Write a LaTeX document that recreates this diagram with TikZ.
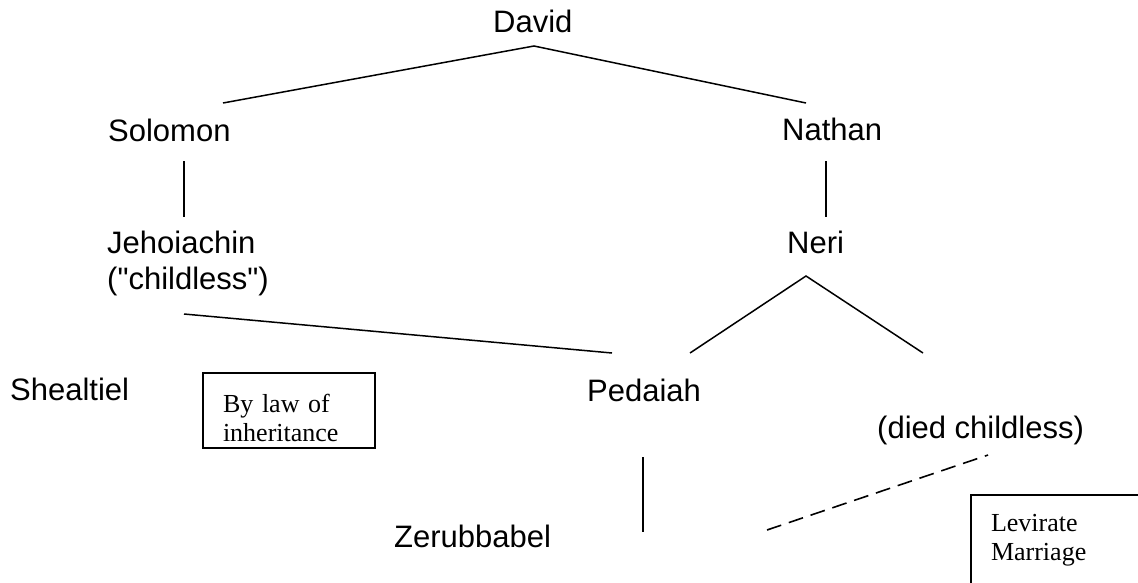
\documentclass[tikz,border=0pt]{standalone}
\usepackage{fontspec}
\setmainfont{Liberation Serif}
\newfontfamily\arialfont{Liberation Sans}
\begin{document}
\begin{tikzpicture}[x=1pt,y=-1pt,
  person/.style={font=\arialfont\fontsize{31}{36}\selectfont, inner sep=0pt, anchor=base west},
  notebox/.style={draw, line width=2pt, font=\fontsize{26}{29}\selectfont, anchor=north west,
    align=left, inner xsep=20pt},
  tree/.style={line width=1.5pt},
  vline/.style={line width=1.1pt},
  levirate/.style={line width=1.6pt, dash pattern=on 15pt off 8pt}
]
\path[use as bounding box, fill=white] (0,0) rectangle (1138,582);

% people
\node[person] (david) at (493,32) {David};
\node[person] (solomon) at (108,141) {Solomon};
\node[person] (nathan) at (782,140) {Nathan};
\node[person, align=left, anchor=north west] (jehoiachin) at (107,231) {Jehoiachin\\("childless")};
\node[person] (neri) at (787,253) {Neri};
\node[person] (shealtiel) at (10,400) {Shealtiel};
\node[person] (pedaiah) at (587,401) {Pedaiah};
\node[person] (died) at (877,438) {(died childless)};
\node[person] (zerubbabel) at (394,547) {Zerubbabel};

% notes
\node[notebox, minimum width=172pt, text width=132pt, inner ysep=7pt] (law) at (202,372) {\rule{0pt}{32pt}By law of\\inheritance};
\node[notebox, text width=150pt, inner ysep=19pt] (lev) at (970,494) {Levirate\\Marriage};

% connector end points
\coordinate (d0) at (534,46);
\coordinate (s0) at (223,103);
\coordinate (n0) at (806,103);
\coordinate (s1) at (184,161);
\coordinate (s2) at (184,217);
\coordinate (n1) at (826,161);
\coordinate (n2) at (826,217);
\coordinate (j0) at (184,314);
\coordinate (p0) at (612,353);
\coordinate (r0) at (806,276);
\coordinate (r1) at (690,353);
\coordinate (r2) at (923,353);
\coordinate (z0) at (643,457);
\coordinate (z1) at (643,532);
\coordinate (l0) at (767,530);
\coordinate (l1) at (988,455);

\draw[tree] (s0) -- (d0) -- (n0);
\draw[vline] (s1) -- (s2);
\draw[vline] (n1) -- (n2);
\draw[tree] (j0) -- (p0);
\draw[tree] (r1) -- (r0) -- (r2);
\draw[vline] (z0) -- (z1);
\draw[levirate] (l0) -- (l1);
\end{tikzpicture}
\end{document}
